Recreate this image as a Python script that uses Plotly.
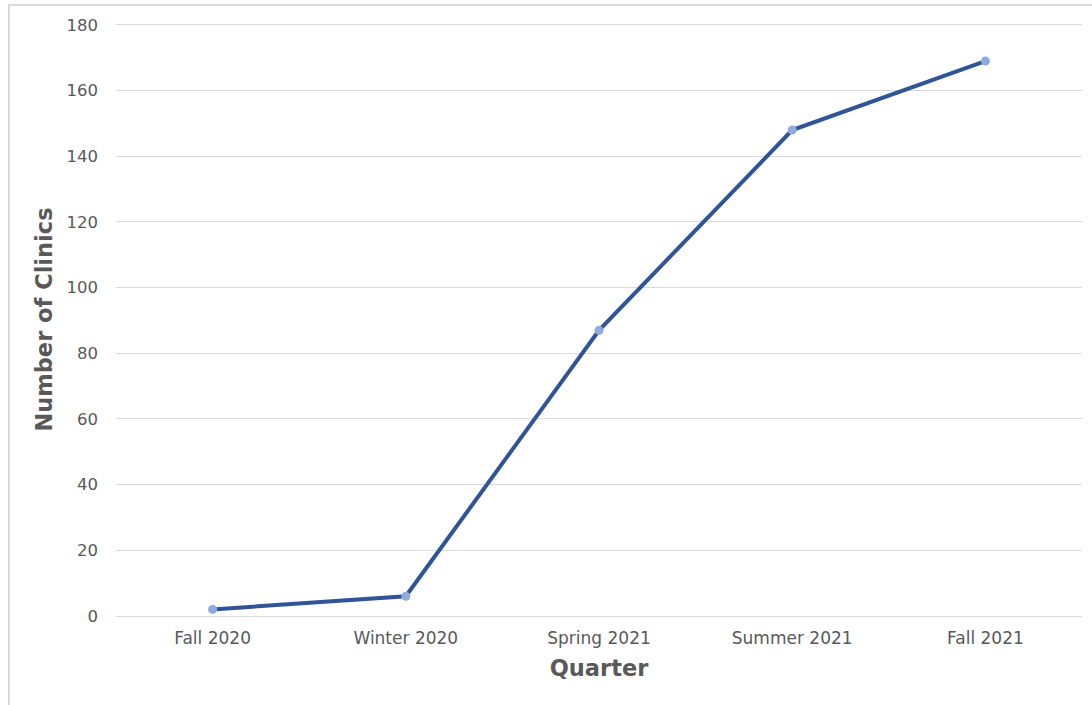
import plotly.graph_objs as go

# quarters and clinic counts
quarters = ['Fall 2020', 'Winter 2020', 'Spring 2021', 'Summer 2021', 'Fall 2021']
clinics = [2, 6, 87, 148, 169]

text_grey = '#595959'
grid_grey = '#d9d9d9'

fig = go.Figure()
fig.add_trace(
    go.Scatter(
        x = quarters,
        y = clinics,
        mode = 'lines+markers',
        line = dict(color = '#2f5597', width = 4),
        marker = dict(color = '#8faadc', size = 9),
        showlegend = False
    )
)

fig.update_layout(
    width = 1092, height = 705,
    margin = dict(l = 116, r = 10, t = 23, b = 89),
    paper_bgcolor = 'white',
    plot_bgcolor = 'white',
    font = dict(family = 'DejaVu Sans', color = text_grey),
    xaxis = dict(
        title = dict(text = '<b>Quarter</b>', font = dict(size = 22.5, color = text_grey), standoff = 13),
        tickfont = dict(size = 17, color = text_grey),
        ticklabelstandoff = 10,
        showgrid = False, showline = False, zeroline = False,
        range = [-0.5, 4.5],
        ticks = '', ticklen = 0,
    ),
    yaxis = dict(
        title = dict(text = '<b>Number of Clinics</b>', font = dict(size = 22.5, color = text_grey), standoff = 7),
        tickfont = dict(size = 16.5, color = text_grey),
        ticklabelstandoff = 17,
        # a little headroom so the 180 gridline is drawn
        range = [0, 180.6],
        tick0 = 0, dtick = 20,
        showgrid = True, gridcolor = grid_grey, gridwidth = 1,
        zeroline = True, zerolinecolor = grid_grey, zerolinewidth = 1,
        showline = False,
        ticks = '',
    ),
    shapes = [
        # outer frame of the original chart box (partly cropped)
        dict(type = 'rect', xref = 'paper', yref = 'paper',
             x0 = -0.1108, x1 = 1.2, y0 = -0.3, y1 = 1.0304,
             line = dict(color = grid_grey, width = 2), layer = 'below'),
    ],
)

# drop the default 8px page margin so the figure sits at the window corner
fig.write_html("out.html", config = {'displayModeBar': False},
               post_script = "document.body.style.margin = '0';")
